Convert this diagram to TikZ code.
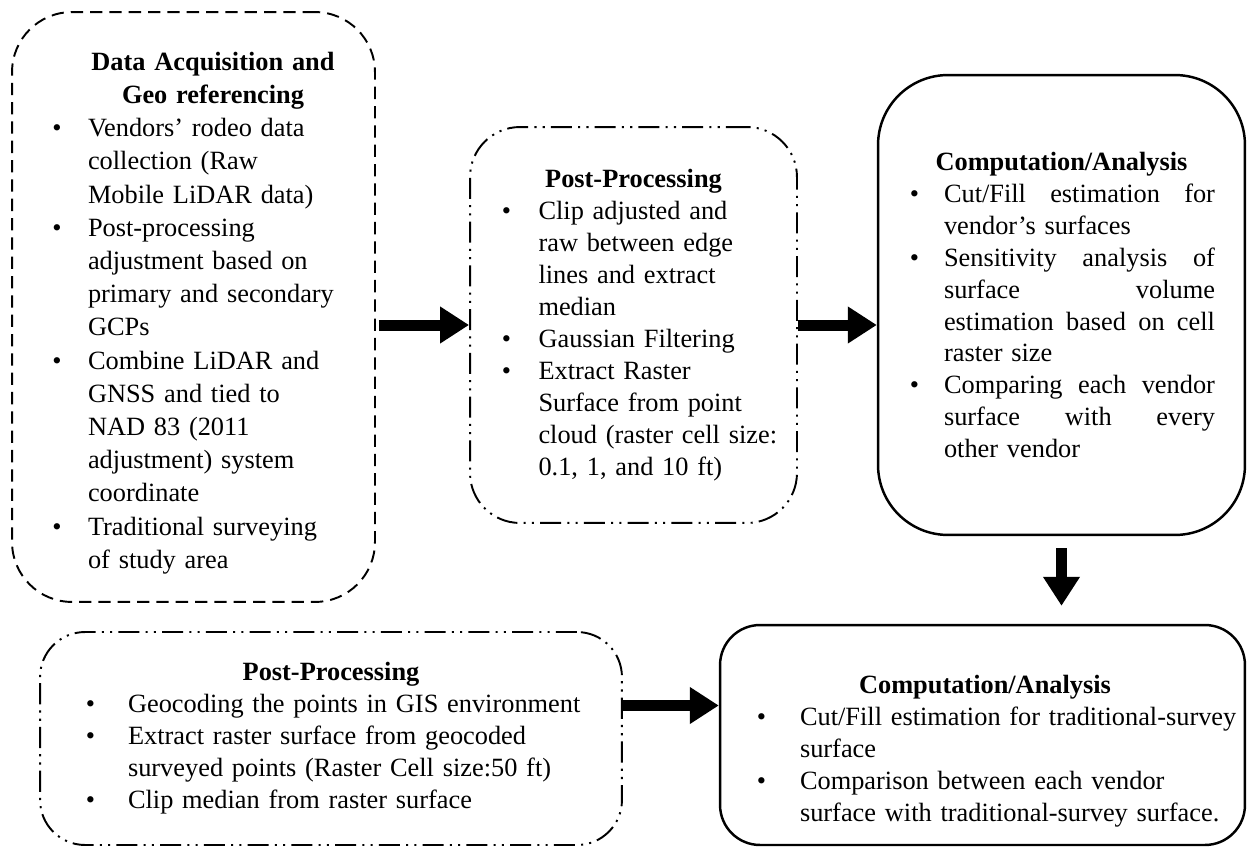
\documentclass[tikz,border=0pt]{standalone}
\usepackage{fontspec}
\setmainfont{Liberation Serif}
\usepackage{enumitem}
\setlist[itemize]{label=\textbullet, leftmargin=0.72cm, labelsep=0.5cm, itemsep=0pt, topsep=0pt, parsep=0pt, partopsep=0pt}
\usetikzlibrary{arrows.meta,positioning}
\newcommand{\jline}[1]{\makebox[\linewidth][s]{\spaceskip=0.25em plus 1fil\relax #1}}

\begin{document}
\begin{tikzpicture}[
    x=0.02cm, y=-0.02cm,
    basebox/.style={rectangle, align=left, inner sep=0pt, font=\fontsize{15}{18.2}\selectfont},
    txt/.style={basebox},
    dashbox/.style={basebox, draw, line width=1.1pt, dash pattern=on 7pt off 4pt, rounded corners=1.2cm},
    dotbox/.style={basebox, draw, line width=1.1pt, dash pattern=on 12pt off 3.5pt on 1.2pt off 3.5pt on 1.2pt off 3.5pt, rounded corners=1cm},
    solidbox/.style={basebox, draw, line width=1.4pt, rounded corners=1.4cm},
    fatarrow/.style={-{Triangle[length=0.58cm, width=0.7cm]}, line width=0.22cm}
  ]
    \useasboundingbox (0,0) rectangle (1248,848);
    % top row
    \node[dashbox, minimum width=7.26cm, minimum height=11.8cm] (acq) at (193.5,307) {};
    \node[txt, text width=6.6cm, font=\fontsize{15}{18.9}\selectfont] (acqtxt) at ([xshift=0.39cm, yshift=-0.12cm]acq.center) {%
      {\centering\bfseries Data Acquisition and\\ Geo referencing\par}
      \begin{itemize}[leftmargin=0.8cm, labelsep=0.53cm]
        \item Vendors’ rodeo data\\ collection (Raw\\ Mobile LiDAR data)
        \item Post-processing\\ adjustment based on\\ primary and secondary\\ GCPs
        \item Combine LiDAR and\\ GNSS and tied to\\ NAD 83 (2011\\ adjustment) system\\ coordinate
        \item Traditional surveying\\ of study area
      \end{itemize}};
    \node[dotbox, minimum width=6.54cm, minimum height=7.92cm, text width=5.92cm] (post) at (633.5,325) {%
      {\centering\bfseries Post-Processing\par}
      \begin{itemize}[leftmargin=1.06cm, labelsep=0.55cm]
        \item Clip adjusted and\\ raw between edge\\ lines and extract\\ median
        \item Gaussian Filtering
        \item Extract Raster\\ Surface from point\\ cloud (raster cell size:\\ 0.1, 1, and 10 ft)
      \end{itemize}};
    \node[solidbox, minimum width=7.34cm, minimum height=9.2cm, text width=6.14cm] (comp) at (1061.5,305) {%
      {\centering\bfseries Computation/Analysis\par}
      \begin{itemize}
        \item \jline{Cut/Fill estimation for}\\ vendor’s surfaces
        \item \jline{Sensitivity analysis of}\\ \jline{surface volume}\\ \jline{estimation based on cell}\\ raster size
        \item \jline{Comparing each vendor}\\ \jline{surface with every}\\ other vendor
      \end{itemize}};
    % bottom row
    \node[dotbox, rounded corners=0.9cm, minimum width=11.64cm, minimum height=4.26cm, text width=11cm] (tpost) at (331,738.5) {%
      {\centering\bfseries Post-Processing\par}
      \begin{itemize}[leftmargin=1.44cm, labelsep=0.66cm]
        \item Geocoding the points in GIS environment
        \item Extract raster surface from geocoded\\ surveyed points (Raster Cell size:50 ft)
        \item Clip median from raster surface
      \end{itemize}};
    \node[solidbox, rounded corners=0.8cm, minimum width=10.5cm, minimum height=4.4cm] (tcomp) at (982.5,735) {};
    \node[txt, text width=10.3cm] (tcomptxt) at ([xshift=0.05cm, yshift=-0.32cm]tcomp.center) {%
      {\centering\bfseries Computation/Analysis\par}
      \begin{itemize}[leftmargin=1.45cm, labelsep=0.68cm]
        \item Cut/Fill estimation for traditional-survey\\ surface
        \item Comparison between each vendor\\ surface with traditional-survey surface.
      \end{itemize}};
    % arrows
    \draw[fatarrow, shorten <=0.06cm] (acq.east |- post.west) -- (post.west);
    \draw[fatarrow] (post.east) -- (post.east -| comp.west);
    \draw[fatarrow, shorten <=0.24cm, shorten >=0.36cm] (comp.south) -- (comp.south |- tcomp.north);
    \draw[fatarrow] ([yshift=0.66cm]tpost.east) -- ([yshift=0.66cm]tpost.east -| tcomp.west);
  \end{tikzpicture}
\end{document}
